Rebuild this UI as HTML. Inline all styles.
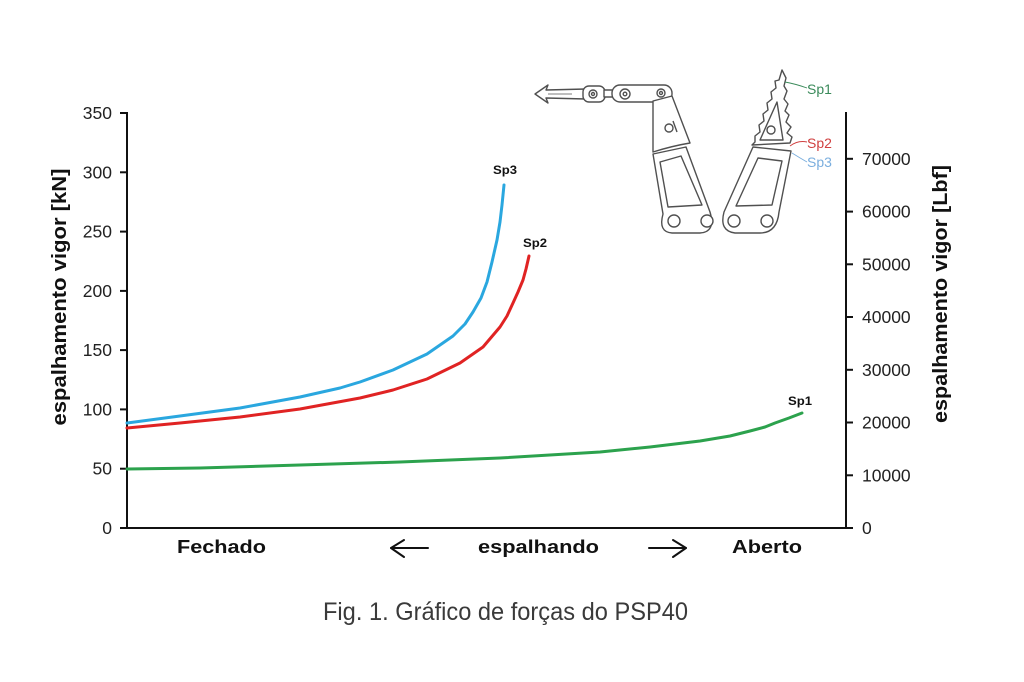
<!DOCTYPE html>
<html><head><meta charset="utf-8"><style>
html,body{margin:0;padding:0;background:#fff;}
svg{display:block;}
</style></head><body>
<svg width="1024" height="682" viewBox="0 0 1024 682" xmlns="http://www.w3.org/2000/svg">
<rect width="1024" height="682" fill="#fff"/>
<g font-family="Liberation Sans, Arial, sans-serif">
<!-- axes -->
<g stroke="#111" stroke-width="2" fill="none">
<line x1="127" y1="112" x2="127" y2="529"/>
<line x1="846" y1="112" x2="846" y2="529"/>
<line x1="120" y1="528" x2="853" y2="528"/>
<line x1="120" y1="468.7" x2="127" y2="468.7"/>
<line x1="120" y1="409.4" x2="127" y2="409.4"/>
<line x1="120" y1="350.1" x2="127" y2="350.1"/>
<line x1="120" y1="290.9" x2="127" y2="290.9"/>
<line x1="120" y1="231.6" x2="127" y2="231.6"/>
<line x1="120" y1="172.3" x2="127" y2="172.3"/>
<line x1="120" y1="113" x2="127" y2="113"/>
<line x1="846" y1="475.3" x2="853" y2="475.3"/>
<line x1="846" y1="422.5" x2="853" y2="422.5"/>
<line x1="846" y1="369.8" x2="853" y2="369.8"/>
<line x1="846" y1="317.0" x2="853" y2="317.0"/>
<line x1="846" y1="264.3" x2="853" y2="264.3"/>
<line x1="846" y1="211.6" x2="853" y2="211.6"/>
<line x1="846" y1="158.8" x2="853" y2="158.8"/>
</g>
<g font-size="17.5" fill="#222" text-anchor="end">
<text x="112" y="534">0</text>
<text x="112" y="474.7">50</text>
<text x="112" y="415.4">100</text>
<text x="112" y="356.1">150</text>
<text x="112" y="296.9">200</text>
<text x="112" y="237.6">250</text>
<text x="112" y="178.3">300</text>
<text x="112" y="119">350</text>
</g>
<g font-size="17.5" fill="#222" text-anchor="start">
<text x="862" y="534">0</text>
<text x="862" y="481.3">10000</text>
<text x="862" y="428.5">20000</text>
<text x="862" y="375.8">30000</text>
<text x="862" y="323.0">40000</text>
<text x="862" y="270.3">50000</text>
<text x="862" y="217.6">60000</text>
<text x="862" y="164.8">70000</text>
</g>
<text transform="translate(66,297) rotate(-90)" font-size="20" font-weight="bold" fill="#111" text-anchor="middle" textLength="257" lengthAdjust="spacingAndGlyphs">espalhamento vigor [kN]</text>
<text transform="translate(947,294) rotate(-90)" font-size="20" font-weight="bold" fill="#111" text-anchor="middle" textLength="258" lengthAdjust="spacingAndGlyphs">espalhamento vigor [Lbf]</text>

<g fill="none" stroke-width="3" stroke-linejoin="round" stroke-linecap="round">
<polyline stroke="#2aa7df" points="127,423 180,416 240,408 300,397 340,388 360,382 393,370 427,354 453,336 465,324 473,312 481,298 487,282 492,262 497,240 500,222 502,205 504,185"/>
<polyline stroke="#e02323" points="127,428 180,423 240,417 300,409 360,398 393,390 427,379 460,363 483,347 500,327 507,316 513,303 518,292 523,280 526,269 529,256"/>
<polyline stroke="#2ca24d" points="127,469 200,468 300,465 400,462 500,458 600,452 650,447 700,441 730,436 750,431 765,427 775,423 789,418 802,413"/>
</g>
<g font-size="12" font-weight="bold" fill="#111">
<text x="493" y="174" textLength="24" lengthAdjust="spacingAndGlyphs">Sp3</text>
<text x="523" y="247" textLength="24" lengthAdjust="spacingAndGlyphs">Sp2</text>
<text x="788" y="405" textLength="24" lengthAdjust="spacingAndGlyphs">Sp1</text>
</g>

<g font-size="18" font-weight="bold" fill="#111">
<text x="177" y="553" textLength="89" lengthAdjust="spacingAndGlyphs">Fechado</text>
<text x="478" y="553" textLength="121" lengthAdjust="spacingAndGlyphs">espalhando</text>
<text x="732" y="553" textLength="70" lengthAdjust="spacingAndGlyphs">Aberto</text>
</g>
<g stroke="#111" stroke-width="2" fill="none" stroke-linecap="round" stroke-linejoin="round">
<line x1="391" y1="548" x2="428" y2="548"/>
<polyline points="404,540 391,548 404,557"/>
<line x1="649" y1="548" x2="686" y2="548"/>
<polyline points="673,540 686,548 673,557"/>
</g>
<text x="323" y="620" font-size="25" fill="#3a3a3a" textLength="365" lengthAdjust="spacingAndGlyphs">Fig. 1. Gráfico de forças do PSP40</text>

<g stroke="#505050" stroke-width="1.4" fill="#fff" stroke-linejoin="round">
<path d="M535,94 L548,85 L546,90 L586,89 L586,99 L546,98 L548,103 Z"/>
<line x1="548" y1="94" x2="572" y2="94" stroke-width="0.7"/>
<rect x="583" y="86" width="22" height="16" rx="6"/>
<circle cx="593" cy="94" r="4"/>
<circle cx="593" cy="94" r="1.5"/>
<rect x="604" y="90" width="10" height="7"/>
<rect x="612" y="85" width="60" height="17" rx="8"/>
<circle cx="625" cy="94" r="5"/>
<circle cx="625" cy="94" r="1.8"/>
<circle cx="661" cy="93" r="4"/>
<circle cx="661" cy="93" r="1.5"/>
<path d="M653,154 L686,147 L710,212 Q716,232 700,233 L672,233 Q658,232 663,214 Z"/>
<path d="M660,162 L681,156 L702,205 L668,207 Z"/>
<circle cx="674" cy="221" r="6"/>
<circle cx="707" cy="221" r="6"/>
<path d="M653,101 L672,96 L690,143 Q672,146 653,152 Z"/>
<circle cx="669" cy="128" r="4"/>
<line x1="673" y1="121" x2="677" y2="132"/>
<path d="M753,147 L791,151 L779,212 Q777,233 760,233 L735,233 Q719,231 724,212 Z"/>
<path d="M758,158 L782,161 L772,205 L736,206 Z"/>
<circle cx="734" cy="221" r="6"/>
<circle cx="767" cy="221" r="6"/>
<path d="M782,70 L779,80 L775,81 L776,88 L771,92 L772,99 L767,103 L768,110 L763,114 L764,121 L759,125 L760,132 L755,136 L755,142 L752,145 L790,143 L792,137 L787,133 L791,127 L786,122 L789,115 L785,111 L788,104 L784,99 L787,91 L784,86 L786,78 Z"/>
<path d="M760,140 L777,102 L783,140 Z" fill="none"/>
<circle cx="771" cy="130" r="4"/>
</g>
<g fill="none" stroke-width="0.9">
<path d="M785,82 Q796,84 807,88" stroke="#3a8a5a"/>
<path d="M790,146 Q798,140 807,142" stroke="#d04040"/>
<path d="M792,153 Q800,158 807,162" stroke="#7aaede"/>
</g>
<g font-size="14">
<text x="807" y="94" fill="#3a8a5a">Sp1</text>
<text x="807" y="148" fill="#d04040">Sp2</text>
<text x="807" y="167" fill="#7aaede">Sp3</text>
</g>
</g>
</svg>
</body></html>
